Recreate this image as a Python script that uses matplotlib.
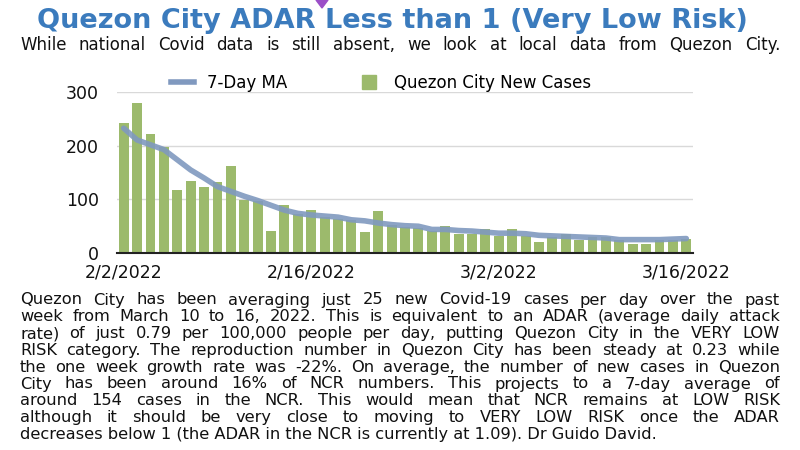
import matplotlib
matplotlib.use("Agg")
import matplotlib.pyplot as plt
from matplotlib.patches import Polygon
from matplotlib.lines import Line2D

plt.rcParams['font.family'] = ['DejaVu Sans']

# data
dates = ["2/2/2022", "2/16/2022", "3/2/2022", "3/16/2022"]
date_pos = [0, 14, 28, 42]
new_cases = [242, 280, 222, 197, 117, 134, 124, 132, 162, 99,
             97, 42, 89, 72, 80, 68, 64, 62, 39, 79,
             52, 49, 47, 41, 51, 36, 36, 44, 31, 45,
             31, 21, 30, 36, 24, 29, 30, 24, 17, 16,
             25, 25, 26]
ma7 = [233, 211, 202, 193, 174, 155, 140, 124, 115, 106,
       98, 89, 80, 74, 71, 69, 67, 62, 60, 56,
       53, 51, 50, 44, 44, 42, 41, 39, 37, 37,
       36, 33, 32, 31, 30, 29, 28, 25, 25, 25,
       25, 26, 27]
days = list(range(len(new_cases)))

title = "Quezon City ADAR Less than 1 (Very Low Risk)"
subtitle = "While national Covid data is still absent, we look at local data from Quezon City."
body = [
    "Quezon City has been averaging just 25 new Covid-19 cases per day over the past",
    "week from March 10 to 16, 2022. This is equivalent to an ADAR (average daily attack",
    "rate) of just 0.79 per 100,000 people per day, putting Quezon City in the VERY LOW",
    "RISK category. The reproduction number in Quezon City has been steady at 0.23 while",
    "the one week growth rate was -22%. On average, the number of new cases in Quezon",
    "City has been around 16% of NCR numbers. This projects to a 7-day average of",
    "around 154 cases in the NCR. This would mean that NCR remains at LOW RISK",
    "although it should be very close to moving to VERY LOW RISK once the ADAR",
    "decreases below 1 (the ADAR in the NCR is currently at 1.09). Dr Guido David.",
]

bar_color = "#9cba6c"
ma_color = "#8099bf"

W, H = 800, 450
fig = plt.figure(figsize=(8, 4.5), dpi=100)
fig.patch.set_facecolor("white")

def fy(py):
    return 1 - py / H

# chart
ax = fig.add_axes([117 / W, fy(253), 576 / W, (253 - 92.3) / H])
ax.bar(days, new_cases, width=0.74, color=bar_color, zorder=2)
ax.plot(days, ma7, color=ma_color, lw=4, alpha=0.9, zorder=3, solid_capstyle="round")
ax.set_xlim(-0.5, 42.5)
ax.set_ylim(0, 300)
ax.set_yticks([0, 100, 200, 300])
ax.yaxis.grid(True, color="#d9d9d9", lw=1)
ax.set_axisbelow(True)
for s in ["left", "right", "top"]:
    ax.spines[s].set_visible(False)
ax.spines["bottom"].set_color("#222222")
ax.spines["bottom"].set_linewidth(1.5)
ax.tick_params(axis="y", length=0, pad=13, labelsize=12.5, labelcolor="#111111")
ax.tick_params(axis="x", length=0, pad=7.5, labelsize=12.5, labelcolor="#111111")
ax.set_xticks(date_pos)
ax.set_xticklabels(dates)

handles = [Line2D([], [], color=ma_color, lw=4),
           Line2D([], [], color=bar_color, marker="s", ls="", markersize=10)]
fig.legend(handles, ["7-Day MA", "Quezon City New Cases"], loc="center",
           bbox_to_anchor=(381 / W, fy(83)), ncol=2, frameon=False,
           fontsize=12, handlelength=1.4, columnspacing=4.2, handletextpad=0.8)

# header
fig.text(392 / W, fy(21), title, ha="center", va="center", fontsize=19.5,
         fontweight="bold", color="#3b7bbd")

renderer = fig.canvas.get_renderer()

def justify(line, x0, x1, py, size):
    words = line.split()
    arts = [fig.text(0, fy(py), w, fontsize=size, va="center", ha="left", color="#111111")
            for w in words]
    widths = [a.get_window_extent(renderer).width for a in arts]
    gap = (x1 - x0 - sum(widths)) / max(len(words) - 1, 1)
    x = x0
    for a, w in zip(arts, widths):
        a.set_x(x / W)
        x += w + gap

justify(subtitle, 20, 780, 45, 12)

for i, line in enumerate(body):
    py = 300 + i * 16.8
    if i < len(body) - 1:
        justify(line, 20, 780, py, 11.7)
    else:
        fig.text(20 / W, fy(py), line, fontsize=11.7, va="center", ha="left", color="#111111")

# small purple marker at top edge
fig.add_artist(Polygon([[316 / W, fy(0)], [328 / W, fy(0)], [322 / W, fy(8)]],
                       closed=True, transform=fig.transFigure, color="#9b4fc8"))

fig.savefig("out.png", dpi=100)
